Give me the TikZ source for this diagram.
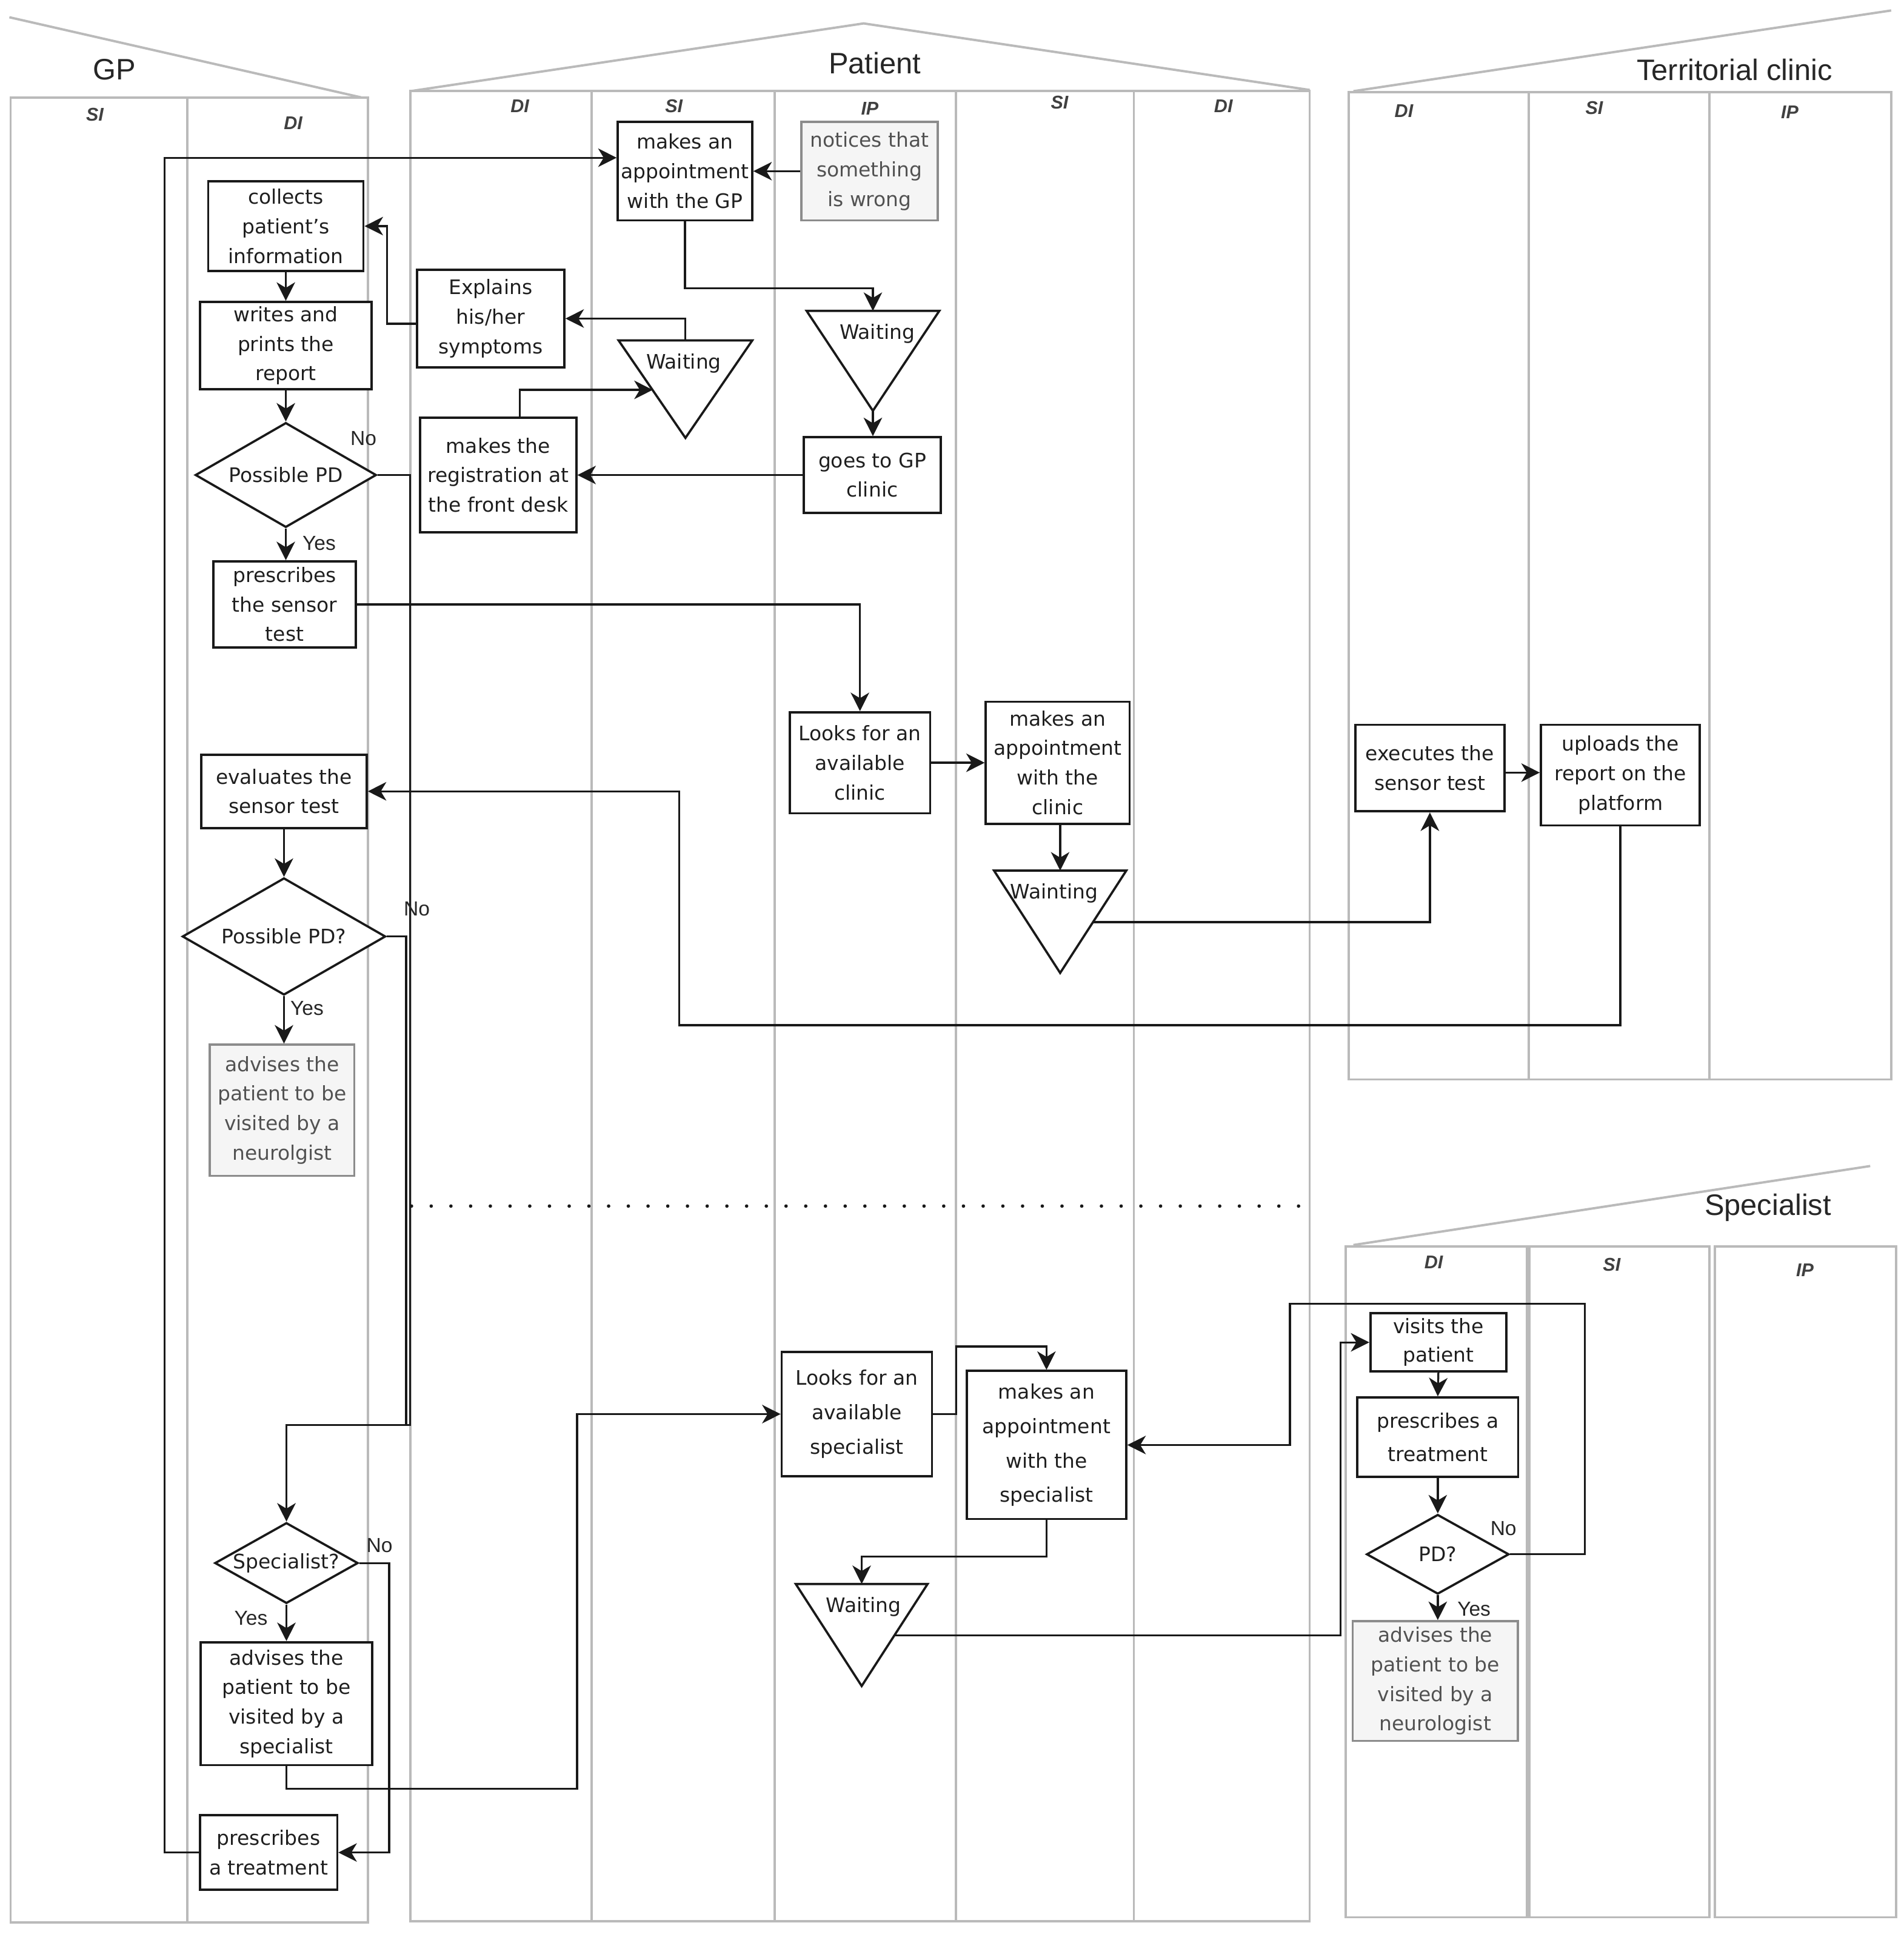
\documentclass[tikz,border=0pt]{standalone}
\usepackage{fontspec}
\setmainfont{Liberation Sans}
\newfontfamily\boxfont{DejaVu Sans}
\usetikzlibrary{shapes.geometric,arrows.meta,calc}
\begin{document}
\begin{tikzpicture}[x=1pt,y=-1pt,
  lane/.style={draw=black!27,line width=1.9pt},
  box/.style={draw=black!90,line width=1.8pt,fill=white,inner sep=0pt,align=center,text=black!88,font=\boxfont\fontsize{16.2}{24}\selectfont},
  gbox/.style={box,draw=black!45,fill=black!4,text=black!68},
  dia/.style={box,diamond},
  sp28/.style={font=\boxfont\fontsize{16.2}{28}\selectfont},
  sp27/.style={font=\boxfont\fontsize{16.2}{27}\selectfont},
  tri/.style={draw=black!90,line width=1.8pt,fill=white,line join=miter},
  arr/.style={draw=black!90,line width=1.6pt,-{Stealth[length=15pt,width=15pt,inset=4.5pt]}},
  conn/.style={draw=black!90,line width=1.6pt},
  lbl/.style={font=\fontsize{16.5}{18}\selectfont,text=black!85,inner sep=0pt},
  hdr/.style={font=\fontsize{24}{26}\selectfont,text=black!85,inner sep=0pt},
  lanelbl/.style={font=\bfseries\itshape\fontsize{15}{16}\selectfont,text=black!75,inner sep=0pt},
  txt/.style={inner sep=0pt,font=\boxfont\fontsize{16.2}{24}\selectfont,text=black!88},
]
\fill[white] (0,0) rectangle (1545,1572);
\useasboundingbox (0,0) rectangle (1545,1572);

% ---------- pools and lanes ----------
% GP
\draw[lane] (8.6,79) rectangle (152,1560);
\draw[lane] (152,79) rectangle (298.6,1560);
\draw[lane] (7.6,14) -- (293,79);
\node[hdr] (hGP) at (93,56.5) {GP};
\node[lanelbl] (gpSI) at (77,93) {SI};
\node[lanelbl] (gpDI) at (238,100) {DI};
% Patient
\draw[lane] (333,74) rectangle (1063,1559);
\foreach \x in {480,628.6,775.8,920.3} \draw[lane] (\x,74) -- (\x,1559);
\draw[lane] (333,74) -- (701,19) -- (1063,73);
\node[hdr] (hPat) at (710,51) {Patient};
\node[lanelbl] (paDI1) at (422,86) {DI};
\node[lanelbl] (paSI1) at (547,86) {SI};
\node[lanelbl] (paIP) at (706,88) {IP};
\node[lanelbl] (paSI2) at (860,83) {SI};
\node[lanelbl] (paDI2) at (993,86) {DI};
% Territorial clinic
\draw[lane] (1094.8,74.9) rectangle (1535,876);
\foreach \x in {1240.8,1387.4} \draw[lane] (\x,74.9) -- (\x,876);
\draw[lane] (1098.5,74) -- (1535,8.5);
\node[hdr] (hTer) at (1408,56.5) {Territorial clinic};
\node[lanelbl] (tcDI) at (1139.5,90) {DI};
\node[lanelbl] (tcSI) at (1294,87.6) {SI};
\node[lanelbl] (tcIP) at (1452.7,91) {IP};
% Specialist
\draw[lane] (1092.3,1011.7) rectangle (1239.2,1556);
\draw[lane] (1241.4,1011.7) rectangle (1387.4,1556);
\draw[lane] (1392,1011.7) rectangle (1539,1556);
\draw[lane] (1098.5,1010.4) -- (1518,946.3);
\node[hdr] (hSpe) at (1435,980) {Specialist};
\node[lanelbl] (spDI) at (1163.7,1024.4) {DI};
\node[lanelbl] (spSI) at (1308.2,1026.5) {SI};
\node[lanelbl] (spIP) at (1465,1030.7) {IP};

% dotted separator
\coordinate (dotA) at (334,978.8);
\coordinate (dotB) at (1063,978.8);
\draw[black!90,line width=2.8pt,dash pattern=on 0pt off 16pt,line cap=round] (dotA) -- (dotB);

% ---------- GP nodes ----------
\node[box,minimum width=126pt,minimum height=73pt] (collects) at (232,183.5) {collects\\patient’s\\information};
\node[box,minimum width=139pt,minimum height=71pt] (writes) at (232,280.5) {writes and\\prints the\\report};
\node[dia,aspect=1.73,minimum width=147pt,minimum height=85pt] (pd1) at (232,385.5) {Possible PD};
\node[box,minimum width=115.6pt,minimum height=70pt] (sensor) at (231,490.5) {prescribes\\the sensor\\test};
\node[box,minimum width=134.3pt,minimum height=59.5pt] (evaluates) at (230.5,642.2) {evaluates the\\sensor test};
\node[dia,aspect=1.74,minimum width=165pt,minimum height=95pt] (pd2) at (230.5,760) {Possible PD?};
\node[gbox,minimum width=117.3pt,minimum height=106.4pt] (neuro1) at (229,901) {advises the\\patient to be\\visited by a\\neurolgist};
\node[dia,aspect=1.78,minimum width=116.3pt,minimum height=65.5pt] (spec) at (232.5,1268.5) {Specialist?};
\node[box,minimum width=139.2pt,minimum height=99.8pt] (advspec) at (232.5,1382.6) {advises the\\patient to be\\visited by a\\specialist};
\node[box,minimum width=111.5pt,minimum height=60.4pt] (treatGP) at (218,1503.4) {prescribes\\a treatment};

% ---------- Patient nodes ----------
\node[box,minimum width=109.2pt,minimum height=79.9pt] (appt) at (556,138.9) {makes an\\appointment\\with the GP};
\node[gbox,minimum width=111pt,minimum height=80pt] (notices) at (705.8,138.9) {notices that\\something\\is wrong};
\draw[tri] (654.7,252.3) -- (762.4,252.3) -- (708.5,333.4) -- cycle;
\coordinate (w1n) at (708.5,252.3);
\coordinate (w1s) at (708.5,333.4);
\node[txt] (w1t) at (712,271) {Waiting};
\node[box,minimum width=111pt,minimum height=61.3pt] (goes) at (708,385.5) {goes to GP\\clinic};
\draw[tri] (502.1,276.3) -- (610.6,276.3) -- (556.35,355.4) -- cycle;
\coordinate (w2n) at (556.35,276.3);
\coordinate (w2in) at (529.8,316.4);
\node[txt] (w2t) at (555,295) {Waiting};
\node[box,minimum width=119.7pt,minimum height=79pt] (explains) at (398.2,258.5) {Explains\\his/her\\symptoms};
\node[box,minimum width=126.7pt,minimum height=93pt] (reg) at (404.4,385.5) {makes the\\registration at\\the front desk};
\node[box,minimum width=114pt,minimum height=82pt] (looksclinic) at (698,619) {Looks for an\\available\\clinic};
\node[box,minimum width=116.7pt,minimum height=99pt] (apptclinic) at (858.5,619) {makes an\\appointment\\with the\\clinic};
\draw[tri] (806.8,706.5) -- (914.2,706.5) -- (860.5,789.6) -- cycle;
\coordinate (w3n) at (860.5,706.5);
\coordinate (w3e) at (887.6,748.3);
\node[txt] (w3t) at (855.6,724.8) {Wainting};
\node[box,sp28,minimum width=122pt,minimum height=100.8pt] (looksspec) at (695.5,1147.6) {Looks for an\\available\\specialist};
\node[box,sp28,minimum width=129.4pt,minimum height=120.2pt] (apptspec) at (849.4,1172.7) {makes an\\appointment\\with the\\specialist};
\draw[tri] (645.9,1285.5) -- (752.9,1285.5) -- (699.4,1368.3) -- cycle;
\coordinate (w4n) at (699.4,1285.5);
\coordinate (w4e) at (725.9,1327.2);
\node[txt] (w4t) at (700.8,1304.2) {Waiting};

% ---------- Territorial clinic nodes ----------
\node[box,minimum width=121.2pt,minimum height=70.3pt] (executes) at (1160.6,623.3) {executes the\\sensor test};
\node[box,minimum width=129pt,minimum height=81.7pt] (uploads) at (1315.2,629) {uploads the\\report on the\\platform};

% ---------- Specialist nodes ----------
\node[box,minimum width=110.3pt,minimum height=47.3pt,font=\boxfont\fontsize{16.2}{23}\selectfont] (visits) at (1167.5,1089.4) {visits the\\patient};
\node[box,sp27,minimum width=130.5pt,minimum height=64.6pt] (treatSp) at (1167,1166.4) {prescribes a\\treatment};
\node[dia,aspect=1.79,minimum width=115.6pt,minimum height=64.6pt] (pd3) at (1167,1261.4) {PD?};
\node[gbox,minimum width=134.2pt,minimum height=97.1pt] (neuro2) at (1165,1364.2) {advises the\\patient to be\\visited by a\\neurologist};

% ---------- connectors ----------
\draw[arr] (notices.west) -- (appt.east);
\draw[arr] (appt.south) -- ++(0,54.2) -| (w1n);
\draw[arr] (w1s) -- (w1s |- goes.north);
\draw[arr] (goes.west) -- (reg.east);
\coordinate (regout) at ([xshift=17.4pt]reg.north);
\draw[arr] (regout) |- (w2in);
\draw[arr] (w2n) |- (explains.east);
\coordinate (expout) at ([yshift=-4.2pt]explains.west);
\draw[arr] (expout) -- (314,262.7) |- (collects.east);
\draw[arr] (collects.south) -- (writes.north);
\draw[arr] (writes.south) -- (pd1.north);
\draw[arr] (pd1.east) -| (333,1156.6) -| (spec.north);
\node[lbl] (no1) at (295,356) {No};
\draw[arr] (pd1.south) -- (pd1.south |- sensor.north);
\node[lbl] (yes1) at (259,440.7) {Yes};
\draw[arr] (sensor.east) -| (looksclinic.north);
\draw[arr] (looksclinic.east) -- (apptclinic.west);
\draw[arr] (w3n |- apptclinic.south) -- (w3n);
\draw[arr] (w3e) -| (executes.south);
\coordinate (exout) at ([yshift=-3.7pt]executes.east);
\draw[arr] (exout) -- (exout -| uploads.west);
\draw[arr] (uploads.south) |- (551.3,832) |- (evaluates.east);
\draw[arr] (evaluates.south) -- (pd2.north);
\draw[conn] (pd2.east) -| (329.7,1156.6);
\node[lbl] (no2) at (338.3,737.7) {No};
\draw[arr] (pd2.south) -- (pd2.south |- neuro1.north);
\node[lbl] (yes2) at (249.2,818.2) {Yes};
\draw[arr] (spec.south) -- (advspec.north);
\node[lbl] (yes3) at (203.7,1313) {Yes};
\draw[arr] (spec.east) -- (315.9,1268.5) |- (treatGP.east);
\node[lbl] (no3) at (308,1254) {No};
\draw[arr] (advspec.south) |- (468.4,1451.6) |- (looksspec.west);
\coordinate (apptin) at ([yshift=10.9pt]appt.west);
\draw[arr] (treatGP.west) -| (133.6,128) -- (apptin);
\draw[arr] (looksspec.east) -| (776,1092.8) -| (apptspec.north);
\draw[arr] (apptspec.south) -- ++(0,29.6) -| (w4n);
\draw[arr] (w4e) -| (1088.2,1089.4) -- (visits.west);
\draw[arr] (visits.south) -- (treatSp.north);
\draw[arr] (treatSp.south) -- (pd3.north);
\draw[arr] (pd3.east) -| (1286.5,1058.1) -| (1047,1172.7) -- (apptspec.east);
\node[lbl] (no4) at (1220.3,1240.5) {No};
\draw[arr] (pd3.south) -- (pd3.south |- neuro2.north);
\node[lbl] (yes4) at (1196.4,1305.9) {Yes};
\end{tikzpicture}
\end{document}
